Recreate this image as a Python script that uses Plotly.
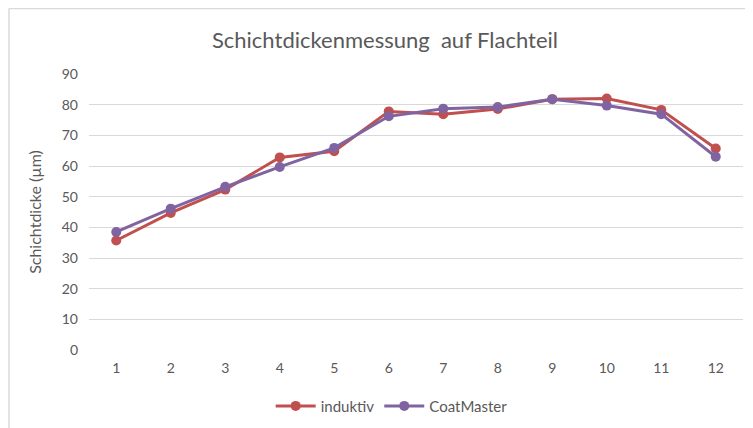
import plotly.graph_objects as go

categories = ["1", "2", "3", "4", "5", "6", "7", "8", "9", "10", "11", "12"]
induktiv = [35.7, 44.7, 52.3, 62.8, 64.8, 77.8, 76.9, 78.6, 81.8, 82.0, 78.3, 65.7]
coatmaster = [38.5, 46.1, 53.2, 59.7, 65.9, 76.2, 78.7, 79.2, 81.8, 79.7, 76.9, 63.0]
y_ticks = [0, 10, 20, 30, 40, 50, 60, 70, 80, 90]

FONT = "Lato, 'Open Sans', sans-serif"
GREY = "#595959"

fig = go.Figure()
fig.add_trace(go.Scatter(
    x=categories, y=induktiv, name="induktiv", mode="lines+markers",
    line=dict(color="#C0504D", width=3), marker=dict(size=10, color="#C0504D"),
))
fig.add_trace(go.Scatter(
    x=categories, y=coatmaster, name="CoatMaster", mode="lines+markers",
    line=dict(color="#8064A2", width=3), marker=dict(size=10, color="#8064A2"),
))

fig.update_layout(
    width=745, height=420,
    margin=dict(l=81, r=10, t=66, b=78),
    paper_bgcolor="white", plot_bgcolor="white",
    font=dict(family=FONT, color=GREY, size=14),
    title=dict(text="Schichtdickenmessung  auf Flachteil", xref="container", x=0.506, xanchor="center",
               yref="container", y=0.924, yanchor="middle", font=dict(size=22, color=GREY, family=FONT)),
    xaxis=dict(type="category", range=[-0.5, 11.5], showgrid=False, showline=False,
               ticks="", tickfont=dict(size=14, color=GREY), zeroline=False,
               ticklabelstandoff=8),
    yaxis=dict(range=[0, 90], tickvals=y_ticks, showgrid=True, gridcolor="#D9D9D9",
               gridwidth=1, zeroline=False, showline=False, ticks="",
               ticklabelstandoff=10,
               tickfont=dict(size=14, color=GREY),
               title=dict(text="Schichtdicke (µm)", font=dict(size=16, color=GREY), standoff=16)),
    legend=dict(orientation="h", xref="container", x=0.515, xanchor="center",
                yref="container", y=0.052, yanchor="middle",
                font=dict(size=15, color=GREY), itemwidth=40),
    showlegend=True,
)

# light chart-area border (left and top edges)
fig.add_shape(type="line", xref="paper", yref="paper", x0=-0.1223, x1=-0.1223, y0=-0.3, y1=1.237,
              line=dict(color="#D9D9D9", width=1.5))
fig.add_shape(type="line", xref="paper", yref="paper", x0=-0.1223, x1=1.02, y0=1.237, y1=1.237,
              line=dict(color="#D9D9D9", width=1.5))

fig.write_html("out.html")
